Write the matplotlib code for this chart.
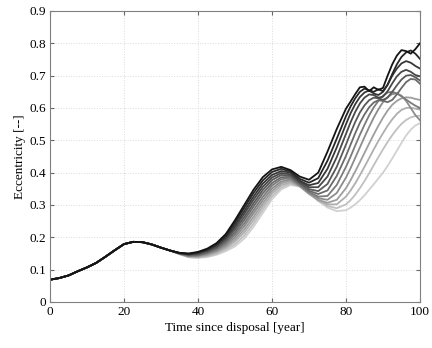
import matplotlib
matplotlib.use("Agg")
import matplotlib.pyplot as plt

plt.rcParams['font.family'] = ['Liberation Serif', 'DejaVu Serif']
plt.rcParams['font.size'] = 9.5

# common part of all runs (years 0 .. 32.5)
t_early = [0, 2.5, 5, 7.5, 10, 12.5, 15, 17.5, 20, 22.5, 25, 27.5, 30, 32.5]
e_early = [0.069, 0.074, 0.082, 0.095, 0.107, 0.121, 0.140, 0.160, 0.179, 0.186,
           0.185, 0.178, 0.168, 0.159]

# after 35 years the runs spread out
t_late = [35, 37.5, 40, 42.5, 45, 47.5, 50, 52.5, 55, 57.5, 60, 62.5, 65, 67.5, 70,
          72.5, 75, 77.5, 80, 81.25, 82.5, 83.75, 85, 86.25, 87.5, 88.75, 90, 91.25,
          92.5, 93.75, 95, 96.25, 97.5, 98.75, 100]

run_1 = [0.152, 0.150, 0.155, 0.165, 0.182, 0.210, 0.253, 0.300, 0.347, 0.386, 0.410, 0.418, 0.408,
         0.388, 0.378, 0.400, 0.465, 0.535, 0.598,
         0.620, 0.643, 0.664, 0.666, 0.652, 0.664, 0.656, 0.662, 0.700, 0.735, 0.762, 0.779, 0.776, 0.768, 0.782, 0.800]
run_2 = [0.152, 0.149, 0.153, 0.163, 0.179, 0.205, 0.246, 0.291, 0.337, 0.376, 0.402, 0.412, 0.404,
         0.381, 0.369, 0.383, 0.437, 0.505, 0.575,
         0.605, 0.630, 0.650, 0.660, 0.655, 0.650, 0.658, 0.652, 0.672, 0.705, 0.735, 0.758, 0.772, 0.778, 0.768, 0.752]
run_3 = [0.151, 0.148, 0.152, 0.160, 0.176, 0.200, 0.238, 0.281, 0.326, 0.366, 0.393, 0.405, 0.400,
         0.375, 0.361, 0.368, 0.412, 0.478, 0.550,
         0.584, 0.612, 0.634, 0.648, 0.654, 0.645, 0.640, 0.650, 0.672, 0.700, 0.722, 0.738, 0.745, 0.740, 0.730, 0.722]
run_4 = [0.151, 0.147, 0.150, 0.159, 0.172, 0.196, 0.231, 0.272, 0.316, 0.356, 0.385, 0.399, 0.395,
         0.372, 0.355, 0.355, 0.388, 0.448, 0.520,
         0.556, 0.588, 0.614, 0.632, 0.642, 0.640, 0.632, 0.635, 0.652, 0.676, 0.698, 0.712, 0.718, 0.712, 0.702, 0.698]
run_5 = [0.151, 0.146, 0.148, 0.156, 0.169, 0.191, 0.224, 0.262, 0.305, 0.346, 0.377, 0.393, 0.391,
         0.368, 0.349, 0.343, 0.365, 0.418, 0.487,
         0.523, 0.557, 0.586, 0.608, 0.624, 0.632, 0.630, 0.625, 0.632, 0.650, 0.670, 0.688, 0.700, 0.702, 0.695, 0.685]
run_6 = [0.150, 0.145, 0.146, 0.153, 0.166, 0.186, 0.216, 0.253, 0.295, 0.336, 0.368, 0.386, 0.387,
         0.365, 0.344, 0.334, 0.345, 0.390, 0.452,
         0.487, 0.522, 0.554, 0.580, 0.602, 0.617, 0.624, 0.622, 0.618, 0.625, 0.642, 0.662, 0.680, 0.690, 0.688, 0.675]
run_7 = [0.150, 0.143, 0.144, 0.151, 0.162, 0.181, 0.209, 0.243, 0.284, 0.325, 0.360, 0.380, 0.383,
         0.362, 0.340, 0.326, 0.328, 0.362, 0.418,
         0.450, 0.484, 0.517, 0.548, 0.577, 0.602, 0.622, 0.638, 0.648, 0.650, 0.645, 0.636, 0.626, 0.616, 0.607, 0.600]
run_8 = [0.149, 0.142, 0.143, 0.149, 0.159, 0.176, 0.201, 0.234, 0.274, 0.315, 0.351, 0.373, 0.379,
         0.360, 0.337, 0.321, 0.316, 0.337, 0.385,
         0.414, 0.446, 0.478, 0.510, 0.541, 0.570, 0.596, 0.618, 0.634, 0.643, 0.645, 0.638, 0.622, 0.600, 0.578, 0.562]
run_9 = [0.149, 0.141, 0.141, 0.146, 0.156, 0.171, 0.194, 0.224, 0.263, 0.305, 0.343, 0.367, 0.375,
         0.358, 0.334, 0.316, 0.307, 0.316, 0.352,
         0.377, 0.404, 0.432, 0.461, 0.490, 0.518, 0.545, 0.570, 0.592, 0.610, 0.622, 0.630, 0.633, 0.632, 0.628, 0.625]
run_10 = [0.149, 0.140, 0.139, 0.144, 0.153, 0.167, 0.187, 0.215, 0.253, 0.295, 0.335, 0.361, 0.370,
          0.358, 0.336, 0.314, 0.302, 0.302, 0.326,
          0.345, 0.367, 0.392, 0.418, 0.445, 0.472, 0.498, 0.522, 0.545, 0.565, 0.582, 0.594, 0.600, 0.601, 0.598, 0.595]
run_11 = [0.148, 0.139, 0.138, 0.141, 0.149, 0.162, 0.179, 0.205, 0.242, 0.285, 0.326, 0.354, 0.366,
          0.358, 0.338, 0.315, 0.297, 0.290, 0.302,
          0.315, 0.332, 0.352, 0.374, 0.398, 0.423, 0.448, 0.472, 0.495, 0.516, 0.535, 0.551, 0.563, 0.571, 0.575, 0.576]
run_12 = [0.148, 0.138, 0.136, 0.139, 0.146, 0.157, 0.172, 0.196, 0.232, 0.275, 0.318, 0.348, 0.362,
          0.357, 0.338, 0.312, 0.292, 0.281, 0.284,
          0.292, 0.302, 0.315, 0.330, 0.347, 0.364, 0.382, 0.400, 0.421, 0.444, 0.468, 0.492, 0.515, 0.533, 0.546, 0.553]

runs = [run_1, run_2, run_3, run_4, run_5, run_6, run_7, run_8, run_9, run_10, run_11, run_12]

fig = plt.figure(figsize=(4.32, 3.48), dpi=100)
ax = fig.add_axes([0.1157, 0.1322, 0.8565, 0.8362])

# light runs first, dark ones on top
n = len(runs)
for i in reversed(range(n)):
    g = 0.08 + 0.74 * i / (n - 1)
    ax.plot(t_early + t_late, e_early + runs[i], color=(g, g, g), lw=1.3)

ax.set_xlim(0, 100)
ax.set_ylim(0, 0.9)
ax.set_xticks([0, 20, 40, 60, 80, 100])
ax.set_yticks([0, 0.1, 0.2, 0.3, 0.4, 0.5, 0.6, 0.7, 0.8, 0.9])
ax.set_yticklabels(['0', '0.1', '0.2', '0.3', '0.4', '0.5', '0.6', '0.7', '0.8', '0.9'])
ax.grid(True, ls=':', color='0.86', lw=0.7)
ax.tick_params(direction='in', top=True, right=True, length=3, color='0.4', pad=3)
for sp in ax.spines.values():
    sp.set_color('0.5')
    sp.set_linewidth(0.8)

ax.set_xlabel('Time since disposal [year]', labelpad=3)
ax.set_ylabel('Eccentricity [--]', labelpad=2)

fig.savefig('out.png', dpi=100)
